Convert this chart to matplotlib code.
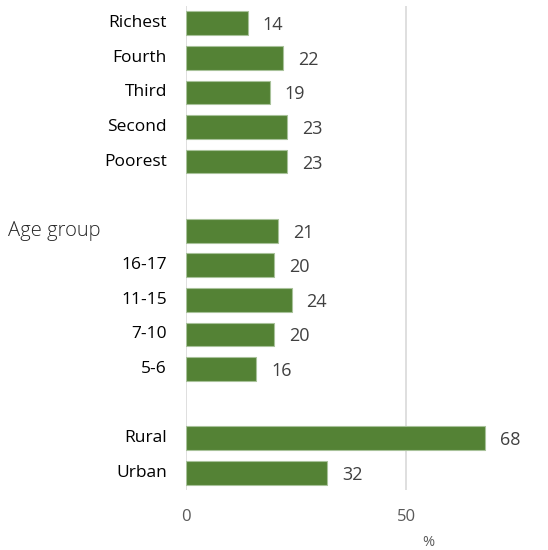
import matplotlib
matplotlib.use("Agg")
import matplotlib.pyplot as plt

# Data
wealth_labels = ["Richest", "Fourth", "Third", "Second", "Poorest"]
wealth_values = [14, 22, 19, 23, 23]
age_labels = ["Age group", "16-17", "11-15", "7-10", "5-6"]
age_values = [21, 20, 24, 20, 16]
area_labels = ["Rural", "Urban"]
area_values = [68, 32]
x_ticks = [0, 50]
x_label = "%"

groups = [(wealth_labels, wealth_values), (age_labels, age_values), (area_labels, area_values)]

plt.rcParams['font.family'] = ['Open Sans', 'DejaVu Sans']

fig = plt.figure(figsize=(5.48, 5.50), dpi=100)
W, H = 548, 550
ax = fig.add_axes([186 / W, 1 - 490 / H, (548 - 186) / W, (490 - 6) / H])

labels, values, pos = [], [], []
p = 0
for gi, (lab, val) in enumerate(groups):
    for l, v in zip(lab, val):
        labels.append(l)
        values.append(v)
        pos.append(p)
        p += 1
    p += 1  # blank row between groups

green = "#548235"
ax.barh(pos, values, height=0.69, color=green, edgecolor="#a8c29a", linewidth=0.8, zorder=3)

for y, v in zip(pos, values):
    ax.annotate(str(v), (v, y), xytext=(15, -2), textcoords="offset pixels",
                va="center", ha="left", fontsize=13, color="#404040")

ax.set_ylim(pos[-1] + 0.5, -0.5)
ax.set_xlim(0, (548 - 186) / 4.4)
ax.set_xticks(x_ticks)
ax.set_xticklabels([str(t) for t in x_ticks], fontsize=12, color="#595959")
ax.tick_params(axis="x", length=0, pad=14)
ax.set_yticks([])

for s in ax.spines.values():
    s.set_visible(False)
for t in x_ticks:
    ax.axvline(t, color="#d9d9d9", linewidth=1.2, zorder=1)

# category labels
for l, y in zip(labels, pos):
    if l == "Age group":
        ax.text(-178 / 4.4, y, l, ha="left", va="center", fontsize=14.5, color="#262626",
                fontweight="light")
    else:
        ax.text(-19 / 4.4, y, l, ha="right", va="center", fontsize=12.5, color="#000000")

fig.text(428 / W, 1 - 542 / H, x_label, ha="center", va="center", fontsize=10.5, color="#595959")

fig.savefig("out.png", dpi=100)
